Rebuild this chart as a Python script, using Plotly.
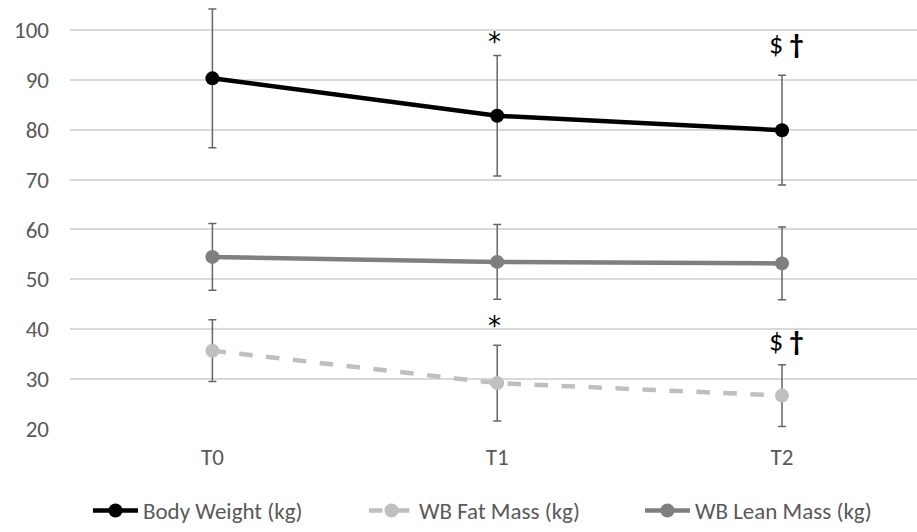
import plotly.graph_objects as go

# ── Data ──────────────────────────────────────────────────────────────────────
timepoints = ["T0", "T1", "T2"]
x_pos = [0, 1, 2]

body_weight = [90.3, 82.8, 79.9]
body_weight_sd = [13.9, 12.1, 11.0]

fat_mass = [35.7, 29.2, 26.7]
fat_mass_sd = [6.2, 7.6, 6.2]

lean_mass = [54.5, 53.5, 53.2]
lean_mass_sd = [6.7, 7.5, 7.3]

# significance marks: (x index, y value, text)
sig_x = [1, 2, 1, 2]
sig_y = [98.4, 97.0, 41.4, 37.6]
sig_text = ["*", "$ <b>†</b>", "*", "$ <b>†</b>"]

FONT = "Carlito, Calibri, 'Liberation Sans Narrow', 'Noto Sans', sans-serif"
ERR_COLOR = "#666666"

fig = go.Figure()


def add_series(y, sd, name, color, dash="solid"):
    fig.add_trace(go.Scatter(
        x=x_pos, y=y, name=name, mode="lines+markers",
        line=dict(color=color, width=4.5, dash=dash),
        marker=dict(color=color, size=14),
        error_y=dict(type="data", array=sd, visible=True,
                     color=ERR_COLOR, thickness=1.5, width=4),
    ))


add_series(body_weight, body_weight_sd, "Body Weight (kg)", "#000000")
add_series(fat_mass, fat_mass_sd, "WB Fat Mass (kg)", "#bfbfbf", dash="dash")
add_series(lean_mass, lean_mass_sd, "WB Lean Mass (kg)", "#7f7f7f")

for xi, yi, txt in zip(sig_x, sig_y, sig_text):
    is_star = txt == "*"
    fig.add_annotation(
        x=xi, y=yi, text=txt, showarrow=False,
        xshift=-3 if is_star else 4,
        yshift=-4 if is_star else 0,
        font=dict(size=26 if is_star else 28, color="#000000",
                  family="'DejaVu Sans', sans-serif" if is_star else FONT),
    )

# ── Layout ────────────────────────────────────────────────────────────────────
fig.update_layout(
    width=917, height=532,
    margin=dict(l=70, r=0, t=5, b=102),
    plot_bgcolor="white", paper_bgcolor="white",
    font=dict(family=FONT, size=23, color="#595959"),
    showlegend=True,
    legend=dict(
        orientation="h", x=0.51, xanchor="center",
        y=-0.142, yanchor="top",
        font=dict(size=23, color="#595959"),
        itemwidth=45,
        entrywidth=216, entrywidthmode="pixels",
    ),
    xaxis=dict(
        range=[-0.5, 2.474],
        tickmode="array", tickvals=x_pos, ticktext=timepoints,
        showgrid=False, zeroline=False, showline=False,
        ticks="", ticklabelstandoff=12,
    ),
    yaxis=dict(
        range=[20, 105],
        tickmode="array", tickvals=list(range(20, 101, 10)),
        showgrid=True, gridcolor="#d9d9d9", gridwidth=1.5,
        zeroline=False, showline=False, ticks="",
        ticklabelstandoff=20,
    ),
)

fig.write_html("out.html", config={"displayModeBar": False},
               post_script="document.body.style.margin='0';")
